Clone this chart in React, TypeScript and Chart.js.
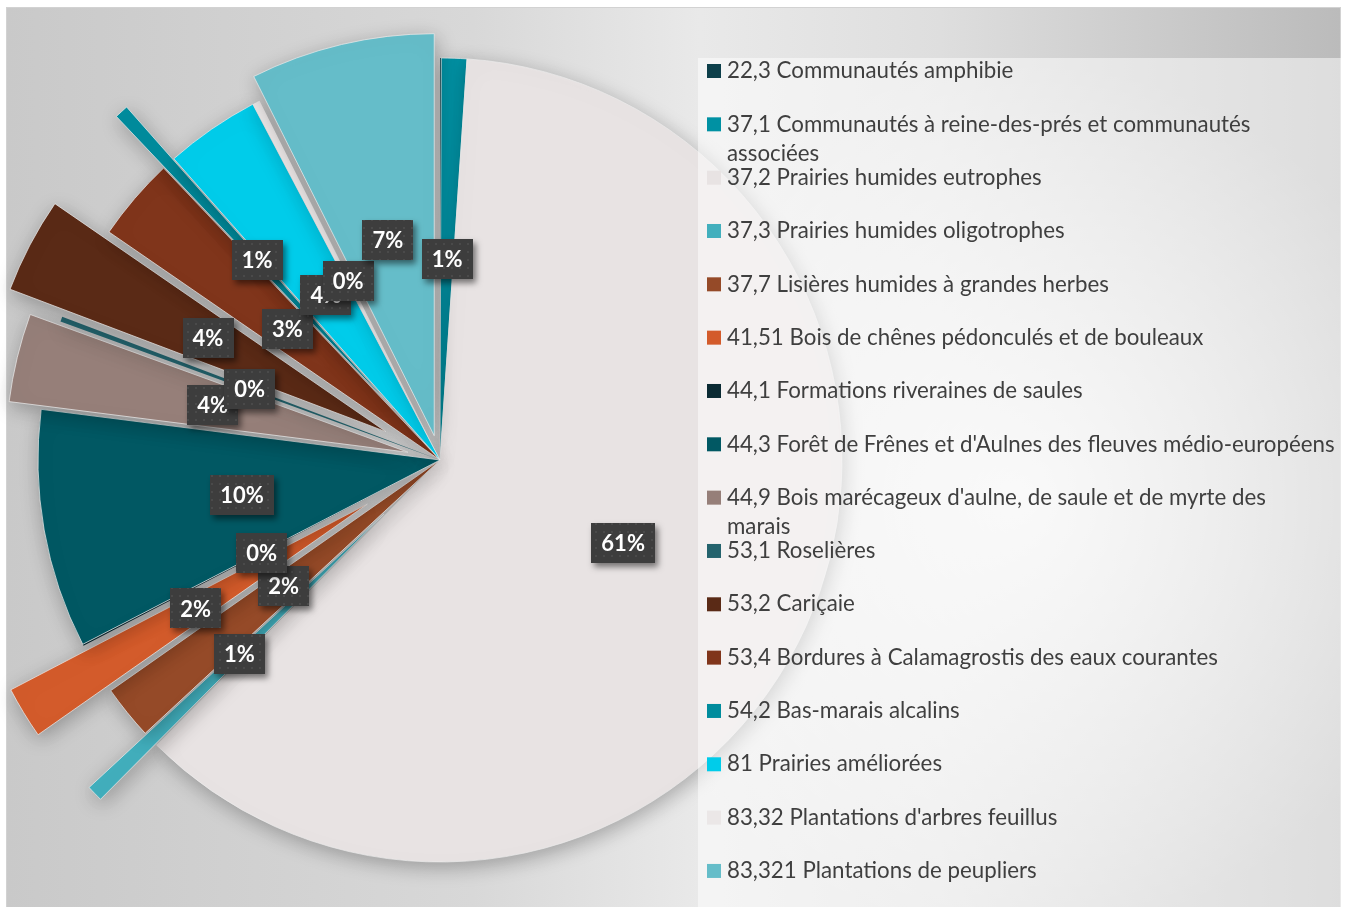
import React, { useEffect, useRef } from 'react';
import { Chart, registerables } from 'chart.js';

Chart.register(...registerables);

// ---- data ----
const categories: (string | string[])[] = [
  '22,3 Communautés amphibie',
  ['37,1 Communautés à reine-des-prés et communautés', 'associées'],
  '37,2 Prairies humides eutrophes',
  '37,3 Prairies humides oligotrophes',
  '37,7 Lisières humides à grandes herbes',
  '41,51 Bois de chênes pédonculés et de bouleaux',
  '44,1 Formations riveraines de saules',
  "44,3 Forêt de Frênes et d'Aulnes des fleuves médio-européens",
  ["44,9 Bois marécageux d'aulne, de saule et de myrte des", 'marais'],
  '53,1 Roselières',
  '53,2 Cariçaie',
  '53,4 Bordures à Calamagrostis des eaux courantes',
  '54,2 Bas-marais alcalins',
  '81 Prairies améliorées',
  "83,32 Plantations d'arbres feuillus",
  '83,321 Plantations de peupliers',
];

// share of surface (%)
const shares = [0.05, 1.02, 61.3, 0.65, 2.17, 2.08, 0.06, 9.58, 3.55, 0.2, 3.83, 3.33, 0.55, 3.8, 0.3, 7.4];

// ---- styles ----
const colors = [
  '#0D3F4A', '#0091A3', '#E8E3E3', '#42AFBD', '#954A28', '#D35B2B', '#0A2A33', '#015863',
  '#967F79', '#24636D', '#5A2A16', '#80351B', '#008C9D', '#00CCEA', '#EBE7E7', '#65BDC9',
];
// explosion of each slice, in pixels
const explode = [0, 0, 0, 78, 0, 85, 0, 0, 33, 2, 61, 0, 70, 0, 0, 25];
const hiddenLabels = [0];

const RADIUS = 402;

function makePattern(): CanvasPattern | string {
  const c = document.createElement('canvas');
  c.width = 8;
  c.height = 8;
  const p = c.getContext('2d');
  if (!p) return '#3d3d3d';
  p.fillStyle = '#3d3d3d';
  p.fillRect(0, 0, 8, 8);
  p.fillStyle = '#4a4a4a';
  p.fillRect(3, 3, 2, 2);
  const pat = p.createPattern(c, 'repeat');
  return pat || '#3d3d3d';
}

const backgroundPlugin = {
  id: 'bgFrame',
  beforeDraw(chart: any) {
    const ctx = chart.ctx as CanvasRenderingContext2D;
    const W = chart.width;
    const H = chart.height;
    ctx.save();
    ctx.fillStyle = '#ffffff';
    ctx.fillRect(0, 0, W, H);
    const fx = 6, fy = 7, fw = 1335, fh = H - 7;
    const lg = ctx.createLinearGradient(fx, 0, fx + fw, 0);
    lg.addColorStop(0, '#c9c9c9');
    lg.addColorStop(0.35, '#d8d8d8');
    lg.addColorStop(0.52, '#e9e9e9');
    lg.addColorStop(0.7, '#dedede');
    lg.addColorStop(1, '#bbbbbb');
    ctx.fillStyle = lg;
    ctx.fillRect(fx, fy, fw, fh);
    const rg = ctx.createRadialGradient(1020, 500, 0, 1020, 500, 440);
    rg.addColorStop(0, 'rgba(255,255,255,0.7)');
    rg.addColorStop(1, 'rgba(255,255,255,0)');
    ctx.fillStyle = rg;
    ctx.fillRect(fx, fy, fw, fh);
    ctx.strokeStyle = '#d2d2d2';
    ctx.lineWidth = 1;
    ctx.strokeRect(fx + 0.5, fy + 0.5, fw - 1, fh + 5);
    ctx.restore();
  },
};

const decoPlugin = {
  id: 'deco',
  beforeDatasetsDraw(chart: any) {
    const meta = chart.getDatasetMeta(0);
    const base = meta.controller.outerRadius;
    meta.data.forEach((el: any, i: number) => {
      const t = explode[i] || 0;
      const fix = 1 - Math.sin(Math.min(Math.PI, el.circumference || 0));
      const ro = t * fix;
      // keep the slice radius constant: explosion becomes a pure translation
      el.outerRadius = base - ro;
      const d = ro / Math.PI / base / 2;
      el.$s0 = el.startAngle;
      el.$e0 = el.endAngle;
      el.startAngle = el.$s0 - d;
      el.endAngle = el.$e0 + d;
    });
    const ctx = chart.ctx as CanvasRenderingContext2D;
    ctx.save();
    ctx.shadowColor = 'rgba(0,0,0,0.28)';
    ctx.shadowBlur = 20;
    ctx.shadowOffsetX = 2;
    ctx.shadowOffsetY = 5;
  },
  afterDatasetsDraw(chart: any) {
    const ctx = chart.ctx as CanvasRenderingContext2D;
    ctx.restore();
    const meta = chart.getDatasetMeta(0);
    meta.data.forEach((el: any) => {
      if (el.$s0 !== undefined) {
        el.startAngle = el.$s0;
        el.endAngle = el.$e0;
      }
    });

    // legend panel
    ctx.save();
    ctx.fillStyle = 'rgba(255,255,255,0.5)';
    ctx.fillRect(698, 58, 643, chart.height - 58);
    ctx.restore();

    // legend entries
    ctx.save();
    ctx.font = '22.3px Lato, "Open Sans", sans-serif';
    ctx.textBaseline = 'middle';
    ctx.textAlign = 'left';
    categories.forEach((cat, i) => {
      const y = 71 + i * 53.33;
      ctx.fillStyle = colors[i];
      ctx.fillRect(707, y - 7, 14, 14);
      const lines = Array.isArray(cat) ? cat : [cat];
      ctx.fillStyle = '#3f3f3f';
      lines.forEach((ln, j) => ctx.fillText(ln, 727, y + j * 29));
    });
    ctx.restore();

    // data labels
    const total = shares.reduce((a, b) => a + b, 0);
    const pattern = makePattern();
    ctx.save();
    ctx.font = 'bold 22px Lato, "Open Sans", sans-serif';
    ctx.textAlign = 'center';
    ctx.textBaseline = 'middle';
    meta.data.forEach((el: any, i: number) => {
      if (hiddenLabels.includes(i)) return;
      const h = (el.startAngle + el.endAngle) / 2;
      const r = RADIUS / 2 + (explode[i] || 0);
      const cx = el.x + Math.cos(h) * r;
      const cy = el.y + Math.sin(h) * r;
      const txt = Math.round((shares[i] / total) * 100) + '%';
      const w = ctx.measureText(txt).width + 20;
      const bh = 40;
      ctx.save();
      ctx.shadowColor = 'rgba(0,0,0,0.5)';
      ctx.shadowBlur = 6;
      ctx.shadowOffsetX = 3;
      ctx.shadowOffsetY = 4;
      ctx.fillStyle = pattern as any;
      ctx.fillRect(Math.round(cx - w / 2), Math.round(cy - bh / 2), Math.round(w), bh);
      ctx.restore();
      ctx.fillStyle = '#ffffff';
      ctx.fillText(txt, cx, cy + 1);
    });
    ctx.restore();
  },
};

export default function App() {
  const ref = useRef<HTMLCanvasElement | null>(null);
  useEffect(() => {
    if (!ref.current) return;
    const chart = new Chart(ref.current, {
      type: 'pie',
      data: {
        labels: categories as any,
        datasets: [
          {
            data: shares,
            backgroundColor: colors,
            borderColor: 'rgba(236,236,236,0.9)',
            borderWidth: shares.map((v) => (v < 0.5 ? 0 : 0.8)),
            offset: explode.map((t) => t * 4),
            radius: RADIUS,
          } as any,
        ],
      },
      options: {
        responsive: false,
        animation: false,
        events: [],
        layout: { padding: { left: 0, right: 471, top: 13, bottom: 0 } },
        plugins: {
          legend: { display: false },
          tooltip: { enabled: false },
        },
      } as any,
      plugins: [backgroundPlugin, decoPlugin],
    });
    return () => chart.destroy();
  }, []);
  return (
    <div style={{ position: 'absolute', left: 0, top: 0, width: 1351, height: 907 }}>
      <canvas ref={ref} width={1351} height={907} />
    </div>
  );
}
